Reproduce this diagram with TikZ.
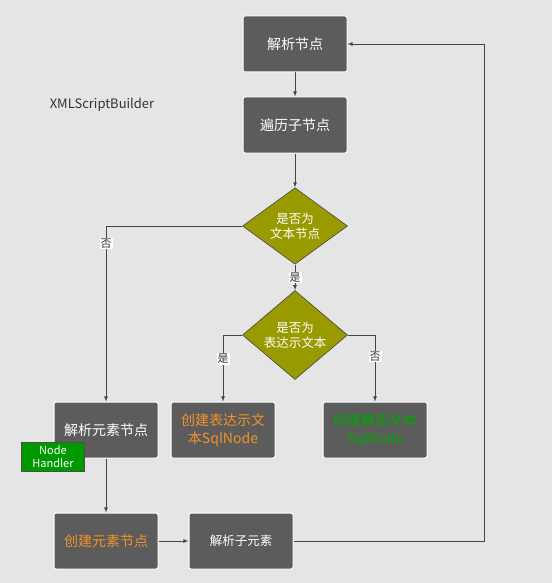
\documentclass[tikz,border=0pt]{standalone}
\usepackage{fontspec}
\setmainfont{Noto Sans CJK SC}
\usetikzlibrary{shapes.geometric}

\definecolor{canvas}{HTML}{E5E5E5}
\definecolor{boxgray}{HTML}{5C5C5C}
\definecolor{olivefill}{HTML}{999900}
\definecolor{linegray}{HTML}{444444}
\definecolor{orangetext}{HTML}{F0922B}
\definecolor{greentext}{HTML}{00A800}
\definecolor{handlergreen}{HTML}{009A00}

\tikzset{
    procbox/.style={rectangle, rounded corners=2pt, draw=white, line width=1pt, fill=boxgray,
        text=white, minimum width=104pt, minimum height=56pt, align=center,
        font=\fontsize{14}{18}\selectfont},
    decision/.style={diamond, draw=linegray, line width=0.6pt, fill=olivefill, text=white,
        minimum width=105pt, minimum height=75pt, inner sep=0pt, align=center,
        font=\fontsize{12.5}{15}\selectfont},
    handlerbox/.style={rectangle, draw=black!70, fill=handlergreen, text=white, inner sep=0pt,
        minimum width=63pt, minimum height=29pt, align=center, font=\fontsize{11}{13}\selectfont},
    lbl/.style={fill=white, inner sep=1pt, text=black!80, font=\fontsize{11}{12}\selectfont},
    arr/.style={-latex, draw=linegray, line width=0.8pt}
}

\begin{document}
\begin{tikzpicture}[x=1pt, y=-1pt]
        \useasboundingbox[fill=canvas] (0,0) rectangle (552,583);

        % Nodes
        \node[text=black!80, font=\fontsize{13}{15}\selectfont] (title) at (102,105) {XMLScriptBuilder};
        \node[procbox] (parse) at (295,44) {解析节点};
        \node[procbox] (walk) at (295,125) {遍历子节点};
        \node[decision] (istext) at (295,226) {是否为\\文本节点};
        \node[decision] (isexpr) at (295,335) {是否为\\表达示文本};
        \node[procbox] (elem) at (106,430) {解析元素节点};
        \node[procbox, text=orangetext] (expr) at (223,430) {创建表达示文\\本SqlNode};
        \node[procbox, text=greentext] (static) at (375,430) {创建静态文本\\SqlNode};
        \node[handlerbox] (handler) at (53,457) {Node\\Handler};
        \node[procbox, text=orangetext] (create) at (106,541) {创建元素节点};
        \node[procbox, font=\fontsize{12.5}{15}\selectfont] (sub) at (241,541) {解析子元素};
        \coordinate (back) at (484,541);

        % Lines
        \draw[arr] (parse) -- (walk);
        \draw[arr] (walk) -- (istext);
        \draw[arr] (istext) -- node[lbl] {是} (isexpr);
        \draw[arr] (istext.west) -| node[lbl, pos=0.55] {否} (elem);
        \draw[arr] (isexpr.west) -| node[lbl, pos=0.68] {是} (expr);
        \draw[arr] (isexpr.east) -| node[lbl, pos=0.66] {否} (static);
        \draw[arr] (elem) -- (create);
        \draw[arr] (create) -- (sub);
        \draw[arr] (sub) -- (back) |- (parse);
    \end{tikzpicture}
\end{document}
